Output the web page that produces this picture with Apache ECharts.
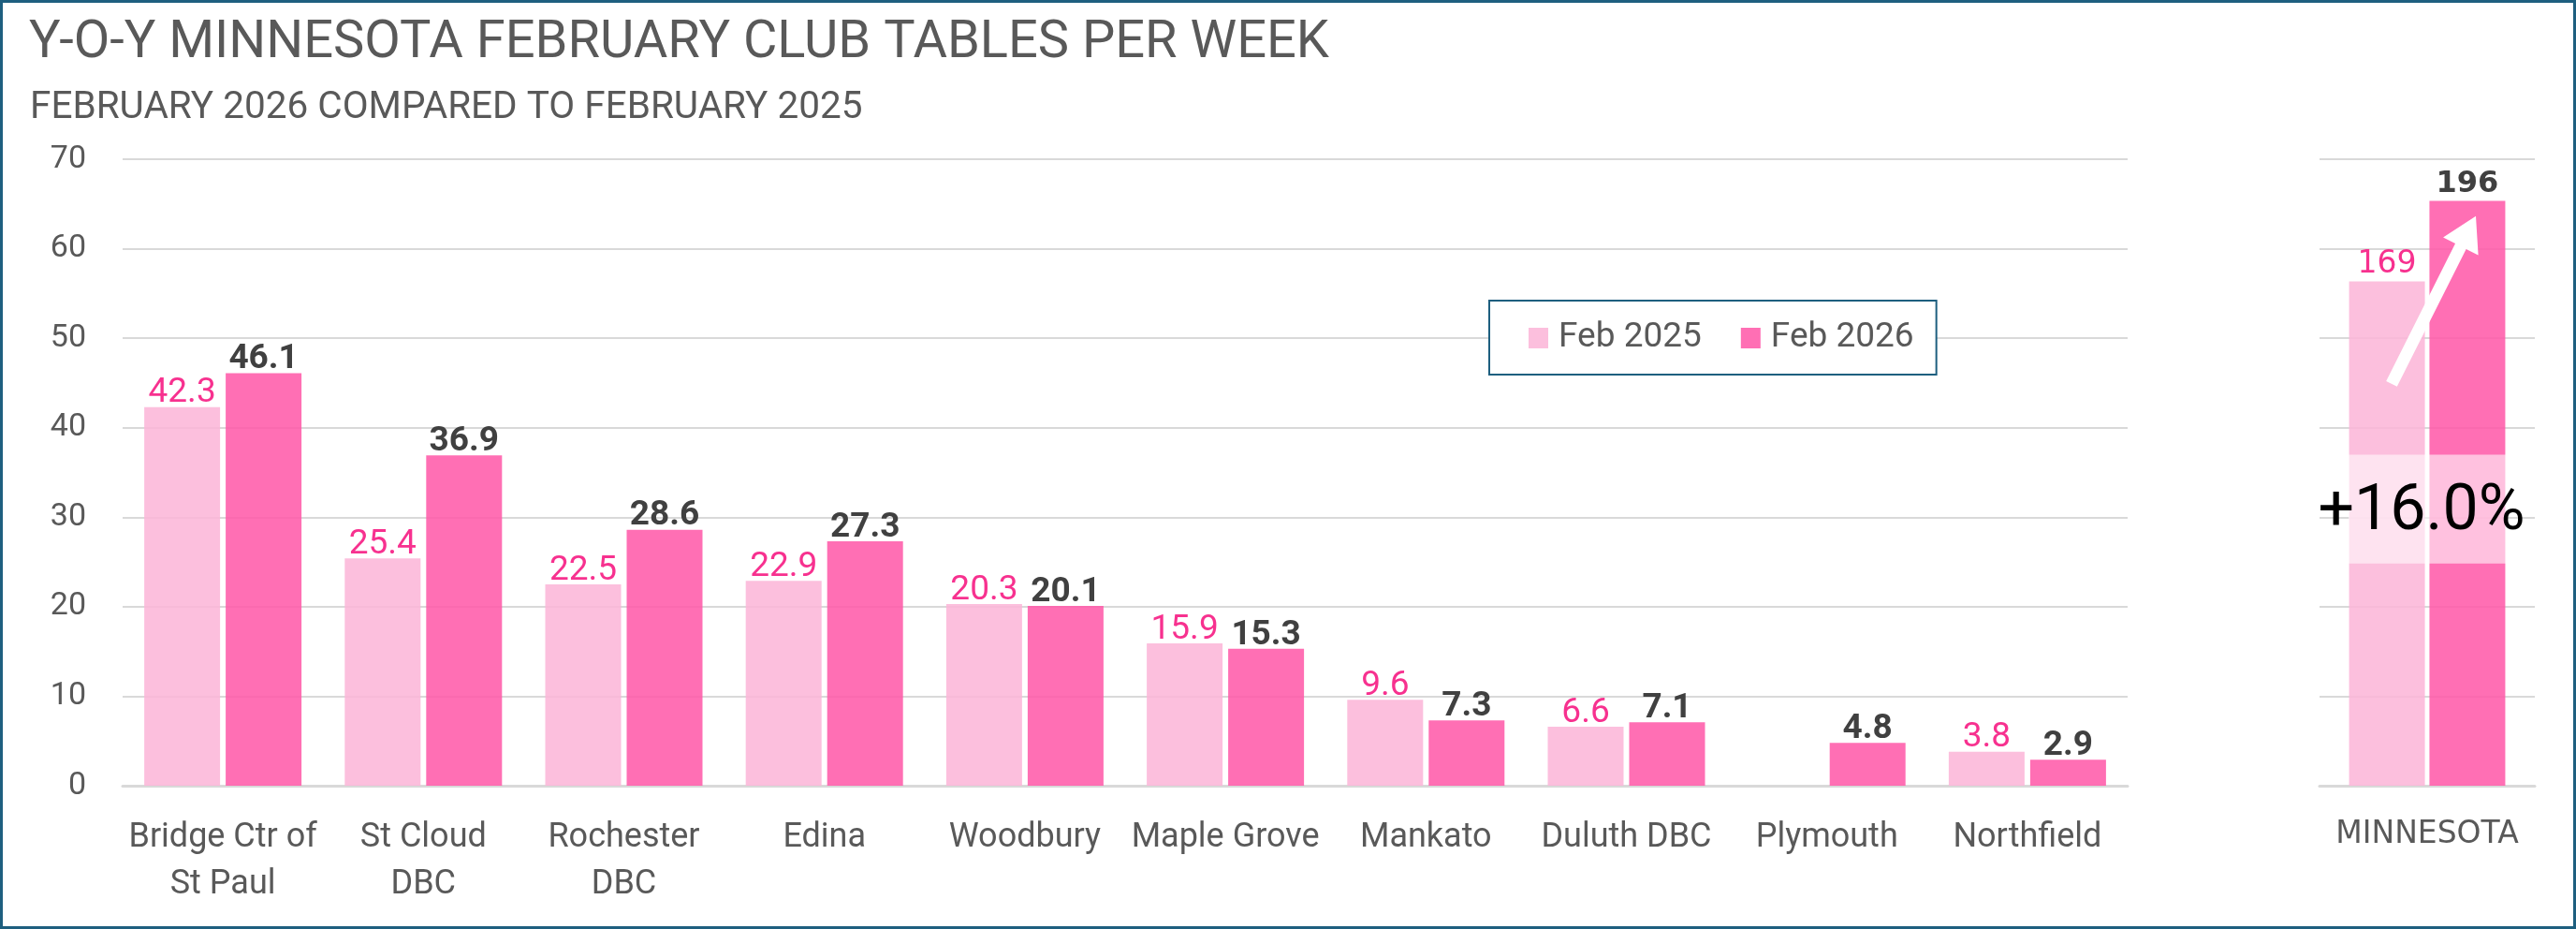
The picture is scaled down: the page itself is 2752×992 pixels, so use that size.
<!DOCTYPE html>
<html>
<head>
<meta charset="utf-8">
<script src="https://cdn.jsdelivr.net/npm/echarts@6/dist/echarts.min.js"></script>
<style>
  html, body { margin: 0; padding: 0; background: #fff; }
  #chart { width: 2752px; height: 992px; }
</style>
</head>
<body>
<div id="chart"></div>
<script>
// 俱乐部 (categories)
var clubs = ['Bridge Ctr of\nSt Paul', 'St Cloud\nDBC', 'Rochester\nDBC', 'Edina', 'Woodbury',
    'Maple Grove', 'Mankato', 'Duluth DBC', 'Plymouth', 'Northfield'];
// tables per week
var feb2025 = [42.3, 25.4, 22.5, 22.9, 20.3, 15.9, 9.6, 6.6, null, 3.8];
var feb2026 = [46.1, 36.9, 28.6, 27.3, 20.1, 15.3, 7.3, 7.1, 4.8, 2.9];
// state totals
var stateName = ['MINNESOTA'];
var state2025 = [169];
var state2026 = [196];
var yTicks = [0, 70, 10];      // min, max, interval (clubs)
var yTicksState = [0, 210, 30]; // min, max, interval (state)

var font = "Roboto, 'Liberation Sans', sans-serif";
var wide = "'DejaVu Sans', sans-serif";
var gray = '#595959';
var lightPink = 'rgba(252,180,215,0.85)';
var darkPink = 'rgba(255,86,167,0.85)';
var pinkText = '#F7318F';
var darkText = '#404040';
var gridColor = '#D9D9D9';

function sum(arr) {
    var s = 0;
    arr.map(function (v) { s += v || 0; });
    return s;
}
var pct = (sum(feb2026) / sum(feb2025) - 1) * 100;
var pctText = (pct >= 0 ? '+' : '') + pct.toFixed(1) + '%';

function oneDecimal(p) {
    return p.value == null ? '' : (+p.value).toFixed(1);
}

var myChart = echarts.init(document.getElementById('chart'));
myChart.setOption({
    animation: false,
    backgroundColor: '#fff',
    title: [
        {
            text: 'Y-O-Y MINNESOTA FEBRUARY CLUB TABLES PER WEEK',
            left: 26, top: 14,
            textStyle: {fontFamily: font, fontSize: 56, fontWeight: 'normal', color: gray}
        },
        {
            text: 'FEBRUARY 2026 COMPARED TO FEBRUARY 2025',
            left: 27, top: 90,
            textStyle: {fontFamily: font, fontSize: 40.5, fontWeight: 'normal', color: gray}
        }
    ],
    legend: {
        data: ['Feb 2025', 'Feb 2026'],
        left: 1591, top: 321,
        icon: 'rect',
        itemWidth: 21, itemHeight: 22, itemGap: 42,
        padding: [20, 24, 19, 42],
        borderColor: '#1E5F7F', borderWidth: 2,
        backgroundColor: '#fff',
        textStyle: {fontFamily: font, fontSize: 37, color: gray, lineHeight: 40, padding: [0, 0, 0, 6]}
    },
    grid: [
        {left: 131, top: 170, width: 2142, height: 669},
        {left: 2478, top: 170, width: 230, height: 669}
    ],
    xAxis: [
        {
            type: 'category', gridIndex: 0, data: clubs,
            axisLine: {lineStyle: {color: gridColor, width: 3}},
            axisTick: {show: false},
            axisLabel: {interval: 0, fontFamily: font, fontSize: 36, color: gray, lineHeight: 50, margin: 31}
        },
        {
            type: 'category', gridIndex: 1, data: stateName,
            axisLine: {lineStyle: {color: gridColor, width: 3}},
            axisTick: {show: false},
            axisLabel: {fontFamily: wide, fontSize: 33, color: gray, lineHeight: 40, margin: 32}
        }
    ],
    yAxis: [
        {
            type: 'value', gridIndex: 0, min: yTicks[0], max: yTicks[1], interval: yTicks[2],
            axisLine: {show: false}, axisTick: {show: false},
            axisLabel: {fontFamily: font, fontSize: 34, color: gray, margin: 39},
            splitLine: {lineStyle: {color: gridColor, width: 2}}
        },
        {
            type: 'value', gridIndex: 1, min: yTicksState[0], max: yTicksState[1], interval: yTicksState[2],
            axisLine: {show: false}, axisTick: {show: false},
            axisLabel: {show: false},
            splitLine: {lineStyle: {color: gridColor, width: 2}}
        }
    ],
    series: [
        {
            name: 'Feb 2025', type: 'bar', xAxisIndex: 0, yAxisIndex: 0,
            data: feb2025, barWidth: 81, barGap: '7.4%',
            itemStyle: {color: lightPink},
            label: {
                show: true, position: 'top', distance: 0, offset: [0, 4],
                fontFamily: font, fontSize: 37, lineHeight: 37, color: pinkText,
                formatter: oneDecimal
            }
        },
        {
            name: 'Feb 2026', type: 'bar', xAxisIndex: 0, yAxisIndex: 0,
            data: feb2026, barWidth: 81, barGap: '7.4%',
            itemStyle: {color: darkPink},
            label: {
                show: true, position: 'top', distance: 0, offset: [0, 4],
                fontFamily: font, fontSize: 37, lineHeight: 37, fontWeight: 'bold', color: darkText,
                formatter: oneDecimal
            }
        },
        {
            name: 'Feb 2025', type: 'bar', xAxisIndex: 1, yAxisIndex: 1,
            data: state2025, barWidth: 81, barGap: '6%',
            itemStyle: {color: lightPink},
            label: {show: true, position: 'top', distance: 2, fontFamily: wide, fontSize: 33, color: pinkText}
        },
        {
            name: 'Feb 2026', type: 'bar', xAxisIndex: 1, yAxisIndex: 1,
            data: state2026, barWidth: 81, barGap: '6%',
            itemStyle: {color: darkPink},
            label: {show: true, position: 'top', distance: 2, fontFamily: wide, fontSize: 32, fontWeight: 'bold', color: darkText}
        }
    ]
});

// 注释: 白色半透明带 + 百分比 + 箭头, 按state坐标定位
var cx = myChart.convertToPixel({xAxisIndex: 1}, stateName[0]);
function py(v) {
    return myChart.convertToPixel({yAxisIndex: 1}, v);
}
var bandTop = py(111), bandBottom = py(74.5);
var tail = [cx - 38, py(134.7)];
var tip = [cx + 52, py(190.9)];
var dx = tip[0] - tail[0], dy = tip[1] - tail[1];
var len = Math.sqrt(dx * dx + dy * dy);
var d = [dx / len, dy / len];
var n = [-d[1], d[0]];
var headLen = 36, shaftHalf = 6.5, headHalf = 21;
var base = [tip[0] - d[0] * headLen, tip[1] - d[1] * headLen];
function pt(p, k) {
    return [p[0] + n[0] * k, p[1] + n[1] * k];
}
var arrowPts = [pt(tail, shaftHalf), pt(base, shaftHalf), pt(base, headHalf), tip,
    pt(base, -headHalf), pt(base, -shaftHalf), pt(tail, -shaftHalf)];

myChart.setOption({
    graphic: [
        {
            type: 'rect', z: 100,
            shape: {x: 1.5, y: 1.5, width: 2749, height: 989},
            style: {fill: 'none', stroke: '#1E5F7F', lineWidth: 3}
        },
        {
            type: 'rect', z: 100,
            shape: {x: cx - 84, y: bandTop, width: 168, height: bandBottom - bandTop},
            style: {fill: 'rgba(255,255,255,0.57)'}
        },
        {
            type: 'text', z: 101,
            x: cx - 6, y: (bandTop + bandBottom) / 2 + 4,
            style: {
                text: pctText, fill: '#000',
                font: '68px Roboto, sans-serif',
                align: 'center', verticalAlign: 'middle'
            }
        },
        {
            type: 'polygon', z: 101,
            shape: {points: arrowPts},
            style: {fill: '#fff'}
        }
    ]
});
</script>
</body>
</html>
